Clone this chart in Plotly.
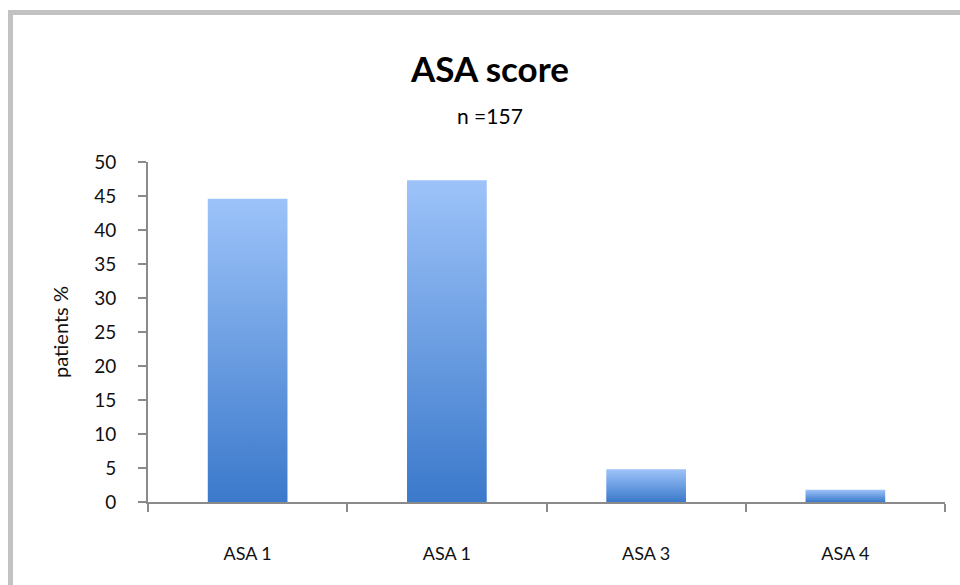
import plotly.graph_objects as go

# ASA score distribution (percentage of patients), n = 157
categories = ["ASA 1", "ASA 1", "ASA 3", "ASA 4"]
patients_pct = [44.6, 47.3, 4.8, 1.8]
y_ticks = [0, 5, 10, 15, 20, 25, 30, 35, 40, 45, 50]

W, H = 960, 585
M_L, M_R, M_T, M_B = 148, 15, 162, 83
BAR_W = 0.40
LIGHT = "#9dc3f9"
DARK = "#3b79cb"
AXIS = "#8a8a8a"
FONT = "Lato"

fig = go.Figure()

# each bar is a filled polygon so that it can carry a vertical gradient
for i, v in enumerate(patients_pct):
    x0, x1 = i - BAR_W / 2, i + BAR_W / 2
    fig.add_trace(go.Scatter(
        x=[x0, x0, x1, x1, x0],
        y=[0, v, v, 0, 0],
        mode="lines",
        fill="toself",
        fillgradient=dict(type="vertical", start=0, stop=v,
                          colorscale=[[0, DARK], [1, LIGHT]]),
        line=dict(width=0, color=DARK),
        hoverinfo="skip",
        showlegend=False,
    ))

n_cat = len(categories)
fig.update_xaxes(
    range=[-0.5, n_cat - 0.5],
    tickvals=list(range(n_cat)),
    ticktext=categories,
    ticks="",
    showgrid=False,
    zeroline=False,
    showline=True, linecolor=AXIS, linewidth=2,
    tickfont=dict(family=FONT, size=18, color="#111"),
    minor=dict(tickvals=[k - 0.5 for k in range(n_cat + 1)],
               ticks="outside", ticklen=8, tickwidth=2, tickcolor=AXIS,
               showgrid=False),
    ticklabelstandoff=34,
)
fig.update_yaxes(
    range=[0, 50],
    tickvals=y_ticks,
    ticks="outside", ticklen=8, tickwidth=2, tickcolor=AXIS,
    showgrid=False,
    zeroline=False,
    showline=True, linecolor=AXIS, linewidth=2,
    tickfont=dict(family=FONT, size=19, color="#111"),
    ticklabelstandoff=18,
    title=dict(text="patients %", font=dict(family=FONT, size=20, color="#111"),
               standoff=20),
)


def px_x(p):
    return (p - M_L) / (W - M_L - M_R)


def px_y(p):
    return (H - M_B - p) / (H - M_T - M_B)


# grey frame along the top and left edges of the chart area
frame = dict(type="line", xref="paper", yref="paper",
             line=dict(color="#c2c2c2", width=5))
fig.add_shape(**frame, x0=px_x(8), x1=px_x(W + 5), y0=px_y(12.5), y1=px_y(12.5))
fig.add_shape(**frame, x0=px_x(10.5), x1=px_x(10.5), y0=px_y(10), y1=px_y(H + 5))

fig.add_annotation(text="<b>ASA score</b>", xref="paper", yref="paper",
                   x=px_x(489), y=px_y(68), xanchor="center", yanchor="middle",
                   showarrow=False,
                   font=dict(family=FONT, size=35, color="#000"))
fig.add_annotation(text="n =157", xref="paper", yref="paper",
                   x=px_x(490), y=px_y(115), xanchor="center", yanchor="middle",
                   showarrow=False,
                   font=dict(family=FONT, size=21, color="#000"))

fig.update_layout(
    width=W, height=H,
    margin=dict(l=M_L, r=M_R, t=M_T, b=M_B),
    paper_bgcolor="white",
    plot_bgcolor="white",
    showlegend=False,
)

fig.write_html("out.html")
